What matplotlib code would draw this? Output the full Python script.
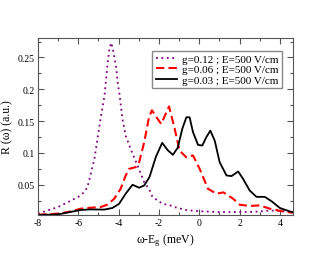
import numpy as np
import matplotlib
matplotlib.use("Agg")
import matplotlib.pyplot as plt
import matplotlib.ticker as ticker

plt.rcParams['font.family'] = ['Liberation Serif', 'DejaVu Serif']
plt.rcParams['mathtext.fontset'] = 'custom'
plt.rcParams['mathtext.rm'] = 'Liberation Serif'
plt.rcParams['mathtext.it'] = 'Liberation Serif:italic'
plt.rcParams['axes.unicode_minus'] = False

# g = 0.12 (dotted)
x_g12 = [-8.0, -7.5, -7.0, -6.5, -6.0, -5.7, -5.55, -5.4, -5.2, -5.05, -4.9, -4.7, -4.55,
         -4.46, -4.37, -4.29, -4.12, -4.04, -3.96, -3.81, -3.65, -3.4, -3.06, -2.73, -2.47,
         -2.32, -1.82, -1.47, -1.24, -0.58, 0.0, 0.85, 1.5, 2.5, 3.0, 3.5, 4.0, 4.65]
y_g12 = [0.0046, 0.0098, 0.015, 0.023, 0.031, 0.0385, 0.046, 0.0646, 0.091, 0.122, 0.153, 0.19, 0.24,
         0.263, 0.273, 0.264, 0.234, 0.208, 0.193, 0.153, 0.127, 0.106, 0.080, 0.054, 0.042,
         0.031, 0.020, 0.018, 0.015, 0.0098, 0.0085, 0.0073, 0.007, 0.0073, 0.008, 0.0095, 0.009, 0.007]

# g = 0.06 (dashed)
x_g06 = [-8.0, -7.0, -6.38, -5.88, -5.39, -4.89, -4.56, -4.22, -3.9, -3.65, -3.48, -3.15, -2.98,
         -2.73, -2.5, -2.35, -2.1, -1.89, -1.5, -1.22, -0.98, -0.64, -0.31, 0.02, 0.43, 0.85,
         1.2, 1.68, 2.0, 2.5, 3.0, 3.5, 4.16, 4.65]
y_g06 = [0.003, 0.0046, 0.008, 0.0124, 0.014, 0.015, 0.0187, 0.028, 0.0437, 0.0646, 0.075, 0.0777, 0.0856,
         0.117, 0.155, 0.167, 0.155, 0.1455, 0.173, 0.138, 0.1037, 0.093, 0.096, 0.075, 0.0437, 0.036,
         0.038, 0.028, 0.0187, 0.0167, 0.0176, 0.0124, 0.008, 0.006]

# g = 0.03 (solid)
x_g03 = [-8.0, -7.0, -6.38, -5.88, -5.39, -4.72, -4.31, -3.98, -3.65, -3.31, -2.98, -2.73, -2.47,
         -2.15, -1.84, -1.57, -1.31, -1.07, -0.84, -0.64, -0.48, -0.31, -0.06, 0.15, 0.35, 0.55,
         0.77, 1.01, 1.35, 1.6, 1.93, 2.17, 2.5, 2.84, 3.25, 3.59, 4.0, 4.5, 4.65]
y_g03 = [0.0025, 0.0035, 0.0073, 0.0104, 0.0113, 0.011, 0.0135, 0.020, 0.036, 0.050, 0.0453, 0.049, 0.062,
         0.094, 0.1158, 0.1045, 0.097, 0.108, 0.138, 0.156, 0.156, 0.1325, 0.1126, 0.1116, 0.1247, 0.135,
         0.119, 0.0856, 0.0646, 0.0636, 0.0708, 0.0594, 0.041, 0.031, 0.031, 0.024, 0.0135, 0.008, 0.007]

labels = ['g=0.12 ; E=500 V/cm', 'g=0.06 ; E=500 V/cm', 'g=0.03 ; E=500 V/cm']

fig = plt.figure(figsize=(3.3, 2.55), dpi=100)
ax = fig.add_axes([38/330, 39/255, 255/330, 177/255])

ax.plot(x_g12, y_g12, color='#800080', lw=1.3, linestyle=(0, (1, 2)), label=labels[0])
ax.plot(x_g06, y_g06, color='#ff0000', lw=1.5, linestyle=(0, (4, 2)), label=labels[1])
ax.plot(x_g03, y_g03, color='black', lw=1.3, label=labels[2])

ax.set_xlim(-8.0, 4.65)
ax.set_ylim(0.0025, 0.2805)

ax.xaxis.set_major_locator(ticker.MultipleLocator(2))
ax.xaxis.set_minor_locator(ticker.MultipleLocator(1))
ax.yaxis.set_major_locator(ticker.MultipleLocator(0.05))
ax.yaxis.set_minor_locator(ticker.MultipleLocator(0.025))
ax.yaxis.set_major_formatter(ticker.FuncFormatter(lambda v, _: f'{v:g}' if v > 0.01 else ''))
ax.xaxis.set_major_formatter(ticker.FuncFormatter(lambda v, _: f'{v:g}'))

ax.tick_params(which='both', direction='in', top=True, right=True, labelsize=7,
               color='#555555', width=0.8, pad=2.5)
ax.tick_params(which='major', length=4)
ax.tick_params(which='minor', length=2)
for s in ax.spines.values():
    s.set_color('#555555')
    s.set_linewidth(0.8)

ax.set_xlabel('ω-E$_{\\mathrm{g}}$ (meV)', fontsize=8.5, labelpad=3)
ax.set_ylabel('R (ω) (a.u.)', fontsize=8.5, labelpad=3)

leg = ax.legend(loc='upper right', bbox_to_anchor=(0.957, 0.927), borderaxespad=0,
                fontsize=8, handlelength=1.9, handletextpad=0.5, labelspacing=0.05,
                borderpad=0.3, fancybox=False, framealpha=1)
leg.get_frame().set_edgecolor('#888888')
leg.get_frame().set_linewidth(1.0)

fig.savefig('out.png')
